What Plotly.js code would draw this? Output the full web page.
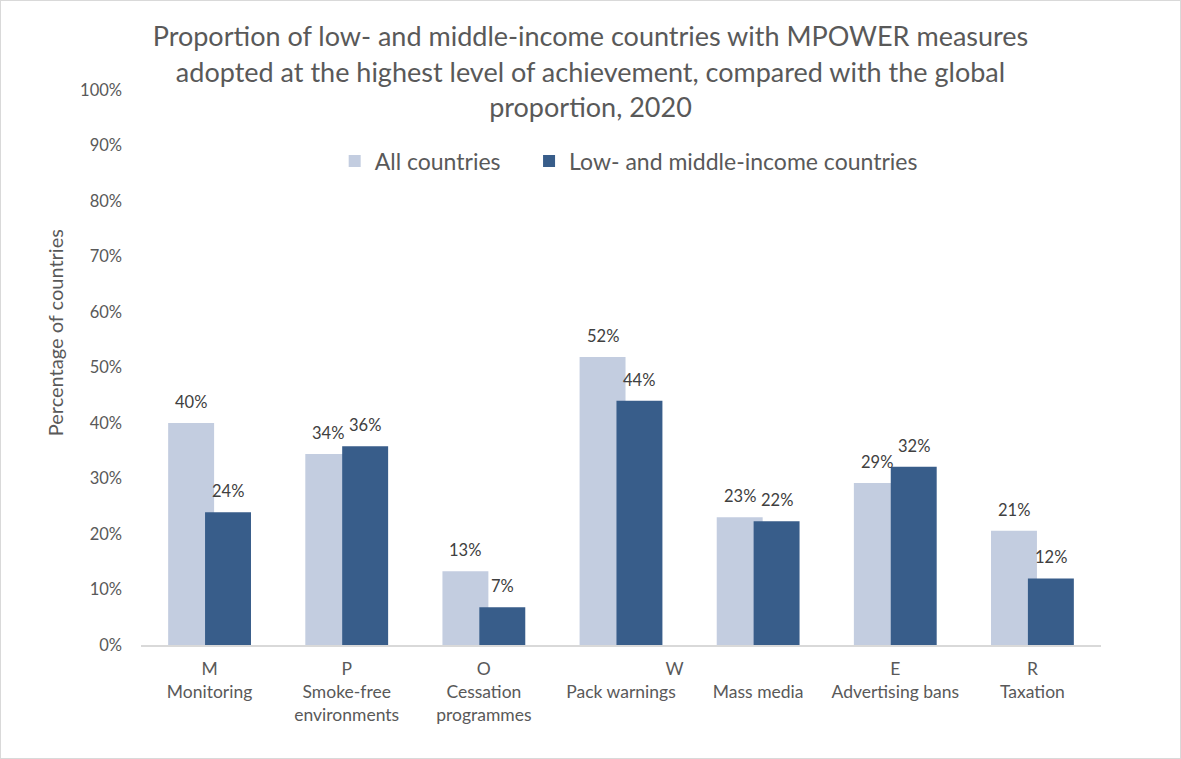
<!DOCTYPE html>
<html>
<head>
<meta charset="utf-8">
<script src="https://cdn.plot.ly/plotly-3.0.1.min.js"></script>
<style>
  html, body { margin: 0; padding: 0; background: #fff; }
  #chart { width: 1179px; height: 757px; border: 1px solid #d9d9d9; }
</style>
</head>
<body>
<div id="chart"></div>
<script>
// MPOWER measures, share of countries at highest level of achievement (%)
const measureLetters = ['M', 'P', 'O', '\u00a0'.repeat(24) + 'W', '\u00a0', 'E', 'R'];
const measureNames = ['Monitoring', 'Smoke-free<br>environments', 'Cessation<br>programmes',
    'Pack warnings', 'Mass media', 'Advertising bans', 'Taxation'];
const allCountries = [40.0, 34.4, 13.3, 51.9, 23.0, 29.2, 20.6];
const lowMiddleIncome = [23.9, 35.8, 6.8, 44.0, 22.3, 32.1, 12.0];

// trailing spaces widen the gap between the two legend entries
const seriesNames = ['All countries' + '\u00a0'.repeat(4), 'Low- and middle-income countries'];
const seriesColors = ['#c3cde0', '#385d8a'];

const FONT = 'Lato, "Open Sans", sans-serif';
const GREY = '#595959';

const xIdx = measureNames.map((_, i) => i);
const ticktext = measureNames.map((n, i) => `${measureLetters[i]}<br>${n}`);

const barWidth = 0.335;
const offsets = [-0.302, -0.033];
const series = [allCountries, lowMiddleIncome];

const traces = series.map((vals, s) => ({
    type: 'bar',
    name: seriesNames[s],
    x: xIdx,
    y: vals,
    width: barWidth,
    offset: offsets[s],
    marker: { color: seriesColors[s] },
    hoverinfo: 'skip'
}));

// data labels above each bar
const labels = [];
series.forEach((vals, s) => {
    vals.forEach((v, i) => {
        labels.push({
            x: i + offsets[s] + barWidth / 2,
            y: v,
            xref: 'x', yref: 'y',
            text: `${Math.round(v)}%`,
            showarrow: false,
            yanchor: 'bottom',
            yshift: 9,
            font: { family: FONT, size: 16.5, color: '#404040' }
        });
    });
});

labels.push({
    text: 'Percentage of countries',
    xref: 'paper', yref: 'paper',
    x: -0.104, y: 0.562,
    textangle: -90,
    showarrow: false,
    font: { family: FONT, size: 20, color: GREY }
});

const layout = {
    width: 1179,
    height: 757,
    paper_bgcolor: '#fff',
    plot_bgcolor: '#fff',
    margin: { l: 140, r: 79, t: 89, b: 113 },
    barmode: 'overlay',
    title: {
        text: 'Proportion of low- and middle-income countries with MPOWER measures<br>adopted at the highest level of achievement, compared with the global<br>proportion, 2020',
        x: 0.5, xanchor: 'center',
        y: 0.94, yanchor: 'top', yref: 'container',
        font: { family: FONT, size: 27, color: GREY }
    },
    showlegend: true,
    legend: {
        orientation: 'h',
        x: 0.508, xanchor: 'center',
        y: 0.872, yanchor: 'middle',
        font: { family: FONT, size: 23, color: GREY },
        bgcolor: 'rgba(0,0,0,0)'
    },
    xaxis: {
        range: [-0.5, 6.5],
        tickmode: 'array',
        tickvals: xIdx,
        ticktext: ticktext,
        showgrid: false,
        zeroline: false,
        showline: true,
        linecolor: '#d9d9d9',
        linewidth: 2,
        ticks: '',
        ticklabelstandoff: 7,
        tickfont: { family: FONT, size: 17.5, color: GREY },
        fixedrange: true
    },
    yaxis: {
        range: [0, 100],
        dtick: 10,
        ticksuffix: '%',
        showgrid: false,
        zeroline: false,
        showline: false,
        ticks: '',
        ticklabelstandoff: 18,
        tickfont: { family: FONT, size: 16.5, color: GREY },
        fixedrange: true
    },
    annotations: labels
};

Plotly.newPlot('chart', traces, layout, { displayModeBar: false, staticPlot: true });
</script>
</body>
</html>
